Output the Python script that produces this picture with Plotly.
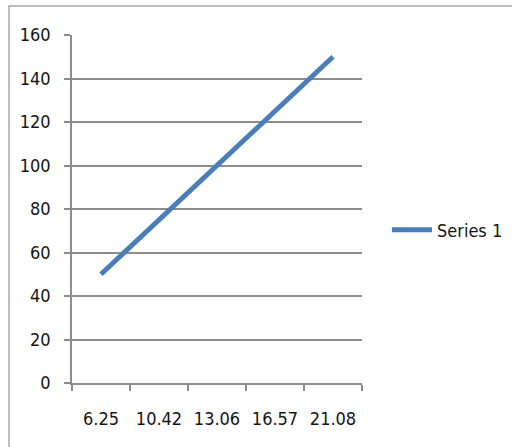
import plotly.graph_objects as go

categories = ["6.25", "10.42", "13.06", "16.57", "21.08"]
series1 = [50, 75, 100, 125, 150]
y_ticks = [0, 20, 40, 60, 80, 100, 120, 140, 160]

FONT = "DejaVu Sans Condensed, Arial Narrow, sans-serif"

fig = go.Figure()
fig.add_trace(go.Scatter(
    x=categories, y=series1, mode="lines", name="Series 1",
    line=dict(color="#4A7EBB", width=5),
))

L, R, T, B = 72, 150, 35, 64
W, H = 512, 447
pw, ph = W - L - R, H - T - B

fig.update_layout(
    width=W, height=H,
    margin=dict(l=L, r=R, t=T, b=B, autoexpand=False),
    paper_bgcolor="white", plot_bgcolor="white",
    font=dict(family=FONT, size=18, color="#141414"),
    showlegend=True,
    legend=dict(x=(387 - L) / pw, y=(383 - 230) / ph, xanchor="left", yanchor="middle",
                itemwidth=40, bgcolor="rgba(0,0,0,0)", font=dict(size=18)),
    xaxis=dict(type="category", range=[-0.5, len(categories) - 0.5], showgrid=False,
               showline=True, linecolor="#8c8c8c", linewidth=1.5, automargin=False,
               ticks="outside", tickson="boundaries", ticklen=6, tickcolor="#8c8c8c", tickwidth=1.5,
               ticklabelstandoff=19, fixedrange=True),
    yaxis=dict(range=[0, 160], tickvals=y_ticks, showgrid=True, gridcolor="#8c8c8c", gridwidth=1.5,
               showline=True, linecolor="#8c8c8c", linewidth=1.5, zeroline=False, automargin=False,
               ticks="outside", ticklen=6, tickcolor="#8c8c8c", tickwidth=1.5,
               ticklabelstandoff=10, fixedrange=True),
)

# outer chart frame
fig.add_shape(type="rect", xref="paper", yref="paper",
              x0=(9 - L) / pw, x1=(W + 20 - L) / pw,
              y0=(H - B - (H + 20)) / ph, y1=1 + (T - 6) / ph,
              line=dict(color="#a6a6a6", width=1.5), fillcolor="rgba(0,0,0,0)", layer="below")

fig.write_html("out.html", config={"displayModeBar": False},
               post_script="document.body.style.margin='0';")
